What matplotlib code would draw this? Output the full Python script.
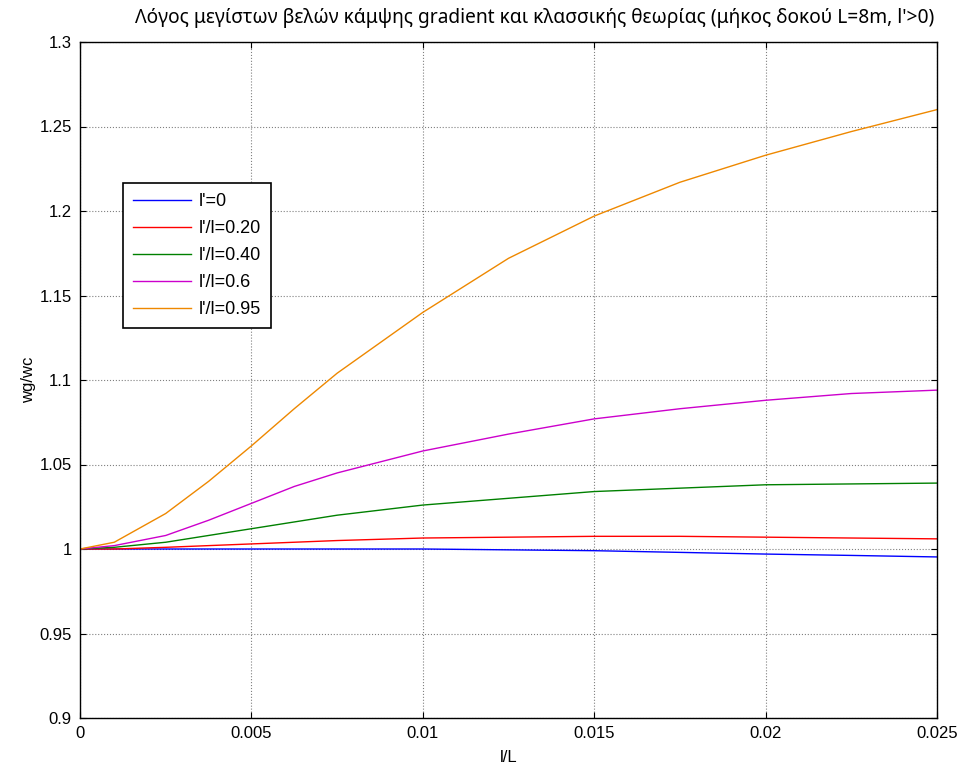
import matplotlib
matplotlib.use("Agg")
import matplotlib.pyplot as plt
from matplotlib.ticker import FixedLocator, FuncFormatter

plt.rcParams["font.family"] = ["Liberation Sans", "DejaVu Sans"]

# l/L sample points
x = [0, 0.001, 0.0025, 0.00375, 0.005, 0.00625, 0.0075, 0.01, 0.0125, 0.015, 0.0175, 0.02, 0.0225, 0.025]

# wg/wc for each l'/l ratio
w_0 = [1.0, 1.0, 1.0, 1.0, 1.0, 1.0, 1.0, 1.0, 0.9995, 0.999, 0.998, 0.997, 0.9962, 0.9953]
w_020 = [1.0, 1.0, 1.001, 1.002, 1.003, 1.004, 1.005, 1.0065, 1.007, 1.0075, 1.0075, 1.007, 1.0065, 1.006]
w_040 = [1.0, 1.001, 1.004, 1.008, 1.012, 1.016, 1.020, 1.026, 1.030, 1.034, 1.036, 1.038, 1.0385, 1.039]
w_060 = [1.0, 1.002, 1.008, 1.017, 1.027, 1.037, 1.045, 1.058, 1.068, 1.077, 1.083, 1.088, 1.092, 1.094]
w_095 = [1.0, 1.004, 1.021, 1.040, 1.061, 1.083, 1.104, 1.140, 1.172, 1.197, 1.217, 1.233, 1.247, 1.260]

labels = ["l'=0", "l'/l=0.20", "l'/l=0.40", "l'/l=0.6", "l'/l=0.95"]
colors = ["#0000ff", "#ff0000", "#008000", "#cc00cc", "#ee8800"]

fig = plt.figure(figsize=(9.64, 7.72), dpi=100)
ax = fig.add_axes([80 / 964, 54 / 772, 857 / 964, 676 / 772])

for ys, lab, c in zip([w_0, w_020, w_040, w_060, w_095], labels, colors):
    ax.plot(x, ys, color=c, lw=1.0, label=lab)

ax.set_xlim(0, 0.025)
ax.set_ylim(0.9, 1.3)
ax.xaxis.set_major_locator(FixedLocator([0, 0.005, 0.01, 0.015, 0.02, 0.025]))
ax.yaxis.set_major_locator(FixedLocator([0.9 + 0.05 * i for i in range(9)]))
ax.xaxis.set_major_formatter(FuncFormatter(lambda v, p: f"{v:g}"))
ax.yaxis.set_major_formatter(FuncFormatter(lambda v, p: f"{round(v, 2):g}"))
ax.grid(True, color="#808080", ls=":", lw=0.8)
ax.tick_params(direction="in", top=True, right=True, length=4, labelsize=12, pad=6)
for sp in ax.spines.values():
    sp.set_linewidth(1.0)

ax.set_xlabel("l/L", fontsize=12, labelpad=6)
ax.set_ylabel("wg/wc", fontsize=12, labelpad=2)
fig.text(535 / 964, 754 / 772, "Λόγος μεγίστων βελών κάμψης gradient και κλασσικής θεωρίας (μήκος δοκού L=8m, l'>0)",
         ha="center", va="center", fontsize=13.8, family=["Noto Sans", "DejaVu Sans"])

leg = ax.legend(loc="upper left", bbox_to_anchor=(0.05, 0.791), fontsize=13,
                frameon=True, fancybox=False, edgecolor="black", framealpha=1,
                handlelength=3.2, handletextpad=0.45, borderpad=0.55,
                labelspacing=0.55, borderaxespad=0)
leg.get_frame().set_linewidth(1.2)

fig.savefig("out.png", dpi=100)
